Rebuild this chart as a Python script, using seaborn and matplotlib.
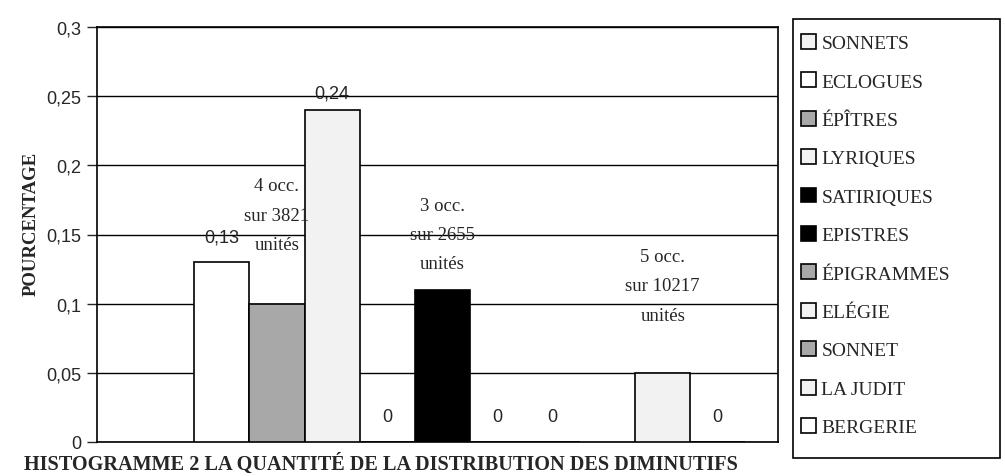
import matplotlib
matplotlib.use("Agg")
import matplotlib.pyplot as plt
from matplotlib.patches import Patch, Rectangle
from matplotlib.ticker import FuncFormatter
import seaborn as sns
import pandas as pd
import numpy as np

# series (one bar each, a single category)
series = ["SONNETS", "ECLOGUES", "ÉPÎTRES", "LYRIQUES", "SATIRIQUES", "EPISTRES",
          "ÉPIGRAMMES", "ELÉGIE", "SONNET", "LA JUDIT", "BERGERIE"]
values = [np.nan, 0.13, 0.10, 0.24, 0.0, 0.11, 0.0, 0.0, np.nan, 0.05, 0.0]
# label shown above each bar ("" = none)
bar_labels = ["", "0,13", "", "0,24", "0", "", "0", "0", "", "", "0"]
colors = ["#f2f2f2", "#ffffff", "#a8a8a8", "#f2f2f2", "#000000", "#000000",
          "#a8a8a8", "#f2f2f2", "#a8a8a8", "#f2f2f2", "#ffffff"]
notes = [("ÉPÎTRES", "4 occ.\nsur 3821\nunités"),
         ("EPISTRES", "3 occ.\nsur 2655\nunités"),
         ("LA JUDIT", "5 occ.\nsur 10217\nunités")]
note_heights = [0.164, 0.150, 0.113]

df = pd.DataFrame({"cat": ["x"] * len(series), "series": series, "val": values})

sns.set_style("white")
plt.rcParams["font.family"] = ["Liberation Sans", "DejaVu Sans"]

fig = plt.figure(figsize=(10.05, 4.77), dpi=100)
ax = fig.add_axes([97 / 1005, 1 - 443 / 477, (778 - 97) / 1005, (443 - 28) / 477])

sns.barplot(data=df, x="cat", y="val", hue="series", hue_order=series,
            palette=dict(zip(series, colors)), width=0.89, dodge=True,
            edgecolor="black", linewidth=1.2, legend=False, ax=ax, zorder=3)

ax.set_ylim(0, 0.3)
ax.set_xlim(-0.507, 0.493)
ax.set_yticks(np.arange(0, 0.301, 0.05))
ax.yaxis.set_major_formatter(FuncFormatter(lambda v, p: ("%g" % round(v, 2)).replace(".", ",")))
ax.tick_params(axis="y", labelsize=13, length=7, width=1, direction="out", left=True, pad=4)
ax.set_xticks([])
ax.set_xlabel("HISTOGRAMME 2 LA QUANTITÉ DE LA DISTRIBUTION DES DIMINUTIFS",
              family="Liberation Serif", fontweight="bold", fontsize=14.6)
ax.xaxis.label.set_va("center")
ax.xaxis.set_label_coords((381 - 97) / 681, -(464 - 443) / 415)
ax.set_ylabel("POURCENTAGE", family="Liberation Serif", fontweight="bold", fontsize=13.5)
ax.yaxis.set_label_coords((40 - 97) / 681, (443 - 224) / 415)
ax.grid(axis="y", color="black", linewidth=1)
ax.set_axisbelow(True)
for s in ax.spines.values():
    s.set_visible(True)
    s.set_color("black")
    s.set_linewidth(1.2)

# bar centres follow the dodge layout of the hue levels
n = len(series)
step = 0.89 / n
centres = {name: -0.445 + step * (i + 0.5) for i, name in enumerate(series)}

for name, v, lab in zip(series, values, bar_labels):
    if lab:
        off = 0.006 if v > 0.2 else 0.012
        ax.text(centres[name], v + off, lab, ha="center", va="bottom", fontsize=13)

for (name, txt), h in zip(notes, note_heights):
    ax.text(centres[name], h, txt, ha="center", va="center",
            family="Liberation Serif", fontsize=13.5, linespacing=1.95)

# legend frame drawn to the reference box size
fig.patches.append(Rectangle((793 / 1005, 1 - 459 / 477), 207 / 1005, 439 / 477,
                             transform=fig.transFigure, fill=False, ec="black", lw=1.2))
handles = [Patch(facecolor=c, edgecolor="black", linewidth=1.2) for c in colors]
fig.legend(handles, series, loc="upper left", bbox_to_anchor=(797 / 1005, 1 - 31 / 477),
           prop={"family": "Liberation Serif", "size": 14}, frameon=False,
           labelspacing=1.04, handlelength=0.8, handleheight=0.8,
           handletextpad=0.25, borderpad=0.2, borderaxespad=0)

fig.savefig("out.png", dpi=100)
